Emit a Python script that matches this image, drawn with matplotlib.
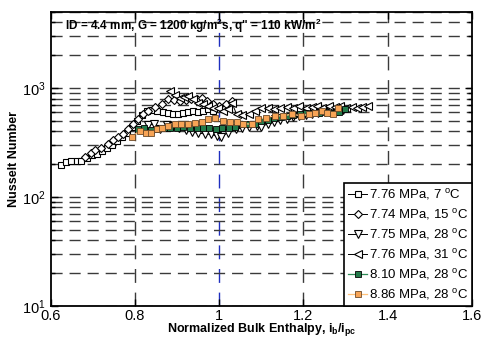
import matplotlib
matplotlib.use("Agg")
import matplotlib.pyplot as plt
from matplotlib.ticker import LogLocator, NullFormatter

plt.rcParams["font.family"] = ["Liberation Sans", "DejaVu Sans"]
plt.rcParams["mathtext.fontset"] = "custom"
plt.rcParams["mathtext.rm"] = "Liberation Sans"
plt.rcParams["mathtext.it"] = "Liberation Sans:italic"
plt.rcParams["mathtext.bf"] = "Liberation Sans:bold"

# 7.76 MPa, 7 C
x1 = [0.624, 0.637, 0.649, 0.661, 0.672, 0.685, 0.697, 0.709, 0.721, 0.733, 0.745,
      0.757, 0.769, 0.781, 0.793, 0.805, 0.817, 0.829, 0.841, 0.853, 0.866, 0.878,
      0.890, 0.902, 0.914, 0.926, 0.938, 0.950, 0.962, 0.974, 0.986]
nu1 = [198, 208, 215, 212, 213, 228, 245, 250, 262, 280, 300,
       325, 352, 390, 440, 500, 560, 610, 630, 615, 600, 585,
       575, 580, 595, 605, 615, 600, 620, 636, 615]

# 7.74 MPa, 15 C
x2 = [0.682, 0.695, 0.706, 0.720, 0.736, 0.748, 0.760, 0.772, 0.784, 0.795, 0.807,
      0.819, 0.831, 0.847, 0.863, 0.879, 0.893, 0.906, 0.920, 0.934, 0.946, 0.958,
      0.972, 0.985, 1.000, 1.015, 1.030]
nu2 = [234, 251, 270, 283, 305, 330, 353, 378, 420, 466, 518,
       575, 616, 670, 720, 785, 780, 760, 770, 785, 800, 805,
       760, 710, 690, 720, 760]

# 7.75 MPa, 28 C
x3 = [0.830, 0.845, 0.860, 0.875, 0.890, 0.905, 0.920, 0.935, 0.950, 0.965, 0.980,
      0.995, 1.005, 1.020, 1.040, 1.055, 1.070, 1.089, 1.100, 1.115, 1.130, 1.145,
      1.160, 1.175, 1.190, 1.205, 1.220, 1.235, 1.250, 1.265, 1.280, 1.295]
nu3 = [455, 466, 420, 460, 445, 430, 410, 395, 385, 380, 375,
       360, 354, 390, 420, 430, 440, 450, 440, 470, 490, 505,
       520, 540, 550, 565, 575, 590, 600, 610, 615, 625]

# 7.76 MPa, 31 C
x4 = [0.883, 0.895, 0.906, 0.916, 0.926, 0.938, 0.949, 0.961, 0.974, 0.986, 0.998,
      1.010, 1.020, 1.030, 1.041, 1.055, 1.070, 1.085, 1.100, 1.115, 1.130, 1.145,
      1.160, 1.175, 1.190, 1.207, 1.220, 1.231, 1.245, 1.260, 1.275, 1.286, 1.300,
      1.315, 1.326, 1.340, 1.354]
nu4 = [940, 860, 815, 830, 845, 790, 735, 710, 685, 660, 650,
       620, 640, 735, 575, 560, 580, 610, 650, 660, 636, 650,
       670, 660, 685, 660, 670, 685, 660, 680, 670, 685, 650,
       670, 660, 675, 685]

# 8.10 MPa, 28 C
x5 = [0.807, 0.822, 0.838, 0.853, 0.868, 0.884, 0.900, 0.915, 0.930, 0.946, 0.961,
      0.976, 0.992, 1.007, 1.023, 1.038, 1.053, 1.069, 1.084, 1.100, 1.115, 1.130,
      1.146, 1.161, 1.176, 1.192, 1.207, 1.222, 1.238, 1.253, 1.268, 1.284, 1.298]
nu5 = [420, 425, 415, 420, 425, 430, 433, 435, 433, 430, 428,
       425, 420, 425, 433, 440, 470, 466, 470, 495, 510, 535,
       545, 550, 560, 575, 585, 590, 595, 600, 595, 600, 636]

# 8.86 MPa, 28 C
x6 = [0.792, 0.811, 0.827, 0.839, 0.851, 0.863, 0.879, 0.894, 0.910, 0.926, 0.942,
      0.958, 0.974, 0.990, 1.009, 1.025, 1.041, 1.057, 1.077, 1.092, 1.112, 1.132,
      1.152, 1.172, 1.195, 1.213, 1.228, 1.243, 1.257, 1.270, 1.282]
nu6 = [356, 404, 390, 385, 420, 433, 450, 466, 466, 470, 475,
       485, 518, 535, 500, 490, 485, 470, 466, 518, 535, 555,
       555, 575, 555, 575, 595, 616, 590, 575, 660]

labels = ["7.76 MPa, 7 $^{\\mathrm{o}}$C", "7.74 MPa, 15 $^{\\mathrm{o}}$C",
          "7.75 MPa, 28 $^{\\mathrm{o}}$C", "7.76 MPa, 31 $^{\\mathrm{o}}$C",
          "8.10 MPa, 28 $^{\\mathrm{o}}$C", "8.86 MPa, 28 $^{\\mathrm{o}}$C"]

fig = plt.figure(figsize=(4.84, 3.38), dpi=100)
ax = fig.add_axes([0.105, 0.095, 0.87, 0.87])

ms = 4.6
ax.plot(x1, nu1, "-s", color="black", lw=0.7, mfc="white", mec="black", mew=0.8, ms=ms, label=labels[0])
ax.plot(x2, nu2, "-D", color="black", lw=0.7, mfc="white", mec="black", mew=0.8, ms=ms - 0.4, label=labels[1])
ax.plot(x3, nu3, "-v", color="black", lw=0.7, mfc="white", mec="black", mew=0.8, ms=ms + 0.8, label=labels[2])
ax.plot(x4, nu4, "-<", color="black", lw=0.7, mfc="white", mec="black", mew=0.8, ms=ms + 0.8, label=labels[3])
ax.plot(x5, nu5, "-s", color="#2e8b57", lw=0.9, mfc="#237a4a", mec="black", mew=0.6, ms=ms, label=labels[4])
ax.plot(x6, nu6, "-s", color="#ffc27a", lw=0.9, mfc="#f7a456", mec="#6b4a2a", mew=0.6, ms=ms, label=labels[5])

ax.set_yscale("log")
ax.set_xlim(0.6, 1.6)
ax.set_ylim(10, 5000)
ax.set_xticks([0.6, 0.8, 1.0, 1.2, 1.4, 1.6])
ax.set_xticklabels(["0.6", "0.8", "1", "1.2", "1.4", "1.6"])
ax.yaxis.set_major_locator(LogLocator(base=10, numticks=10))
ax.yaxis.set_minor_locator(LogLocator(base=10, subs=range(2, 10), numticks=20))
ax.yaxis.set_minor_formatter(NullFormatter())

ax.grid(True, which="both", axis="y", linestyle=(0, (8, 5)), color="#3a3a3a", lw=1.0)
ax.grid(True, which="major", axis="x", linestyle=(0, (10, 7)), color="#3a3a3a", lw=1.0)
for loc, gl in zip(ax.get_xticks(), ax.xaxis.get_gridlines()):
    if abs(loc - 1.0) < 1e-9:
        gl.set_color("#1f2fbf")
    if abs(loc - 0.6) < 1e-9 or abs(loc - 1.6) < 1e-9:
        gl.set_visible(False)
ax.set_axisbelow(True)

ax.tick_params(which="both", direction="in", top=True, right=True, labelsize=10.5, width=1)
ax.tick_params(axis="x", pad=2)
ax.tick_params(which="major", length=5)
ax.tick_params(which="minor", length=3)
for s in ax.spines.values():
    s.set_linewidth(1.3)

ax.text(0.633, 3700, "ID = 4.4 mm, G = 1200 kg/m$^{\\mathbf{2}}$s, q\" = 110 kW/m$^{\\mathbf{2}}$",
        fontsize=8.5, fontweight="bold", va="center", ha="left")

ax.set_xlabel("Normalized Bulk Enthalpy, i$_{\\mathbf{b}}$/i$_{\\mathbf{pc}}$",
              fontsize=9, fontweight="bold", labelpad=-1)
ax.set_ylabel("Nusselt Number", fontsize=9, fontweight="bold", labelpad=2)

leg = ax.legend(loc="lower right", fontsize=9.5, frameon=True, fancybox=False,
                edgecolor="black", framealpha=1, borderpad=0.3, labelspacing=0.38,
                handlelength=1.4, handletextpad=0.15, borderaxespad=0.0)
leg.get_frame().set_linewidth(1.2)

fig.savefig("out.png", dpi=100)
